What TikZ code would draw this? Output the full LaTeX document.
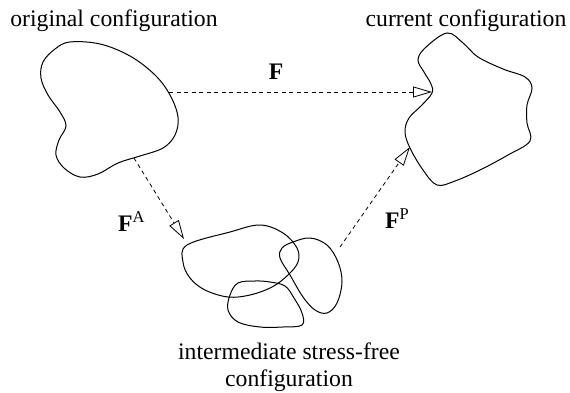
\documentclass[tikz,border=0pt]{standalone}
\usepackage{fontspec}
\setmainfont{Liberation Serif}
\usetikzlibrary{arrows.meta}
\newcommand{\supr}[1]{\raisebox{8.5pt}{\fontsize{16.5}{18}\selectfont #1}}
\begin{document}
\begin{tikzpicture}[x=1pt,y=-1pt,
  blob/.style={draw=black, line width=1pt, smooth cycle, tension=0.6},
  maparrow/.style={draw=black, line width=0.8pt, dash pattern=on 4pt off 3.5pt,
    -{Triangle[open, length=19pt, width=11pt, line width=0.8pt]}},
  lbl/.style={font=\fontsize{23.7}{27}\selectfont, inner sep=0pt, anchor=base},
  flbl/.style={font=\fontsize{23.7}{27}\selectfont, inner sep=0pt, anchor=base west}]
\useasboundingbox (0,0) rectangle (570,393);
% original configuration
\draw[blob] plot coordinates {(70,42) (100,44) (130,56) (155,75) (170,95) (178,117) (175,135) (163,148) (140,156) (118,163) (98,174) (80,177) (64,168) (56,155) (59,140) (66,126) (60,112) (48,95) (41,78) (43,62) (55,49)};
% current configuration
\draw[blob] plot coordinates {(447,33) (425,48) (418,60) (424,72) (431,84) (432,93) (422,105) (409,118) (405,132) (410,148) (423,170) (437,185) (455,181) (480,170) (508,155) (530,141) (527,123) (527,105) (532,88) (525,77) (503,69) (478,57) (463,43)};
% intermediate
\draw[blob] plot coordinates {(187,245) (230,232) (260,225) (283,233) (297,248) (298,262) (288,275) (272,287) (250,295) (228,297) (205,290) (190,278) (183,262)};
\draw[blob] plot coordinates {(282,248) (293,242) (310,238) (327,245) (338,262) (342,282) (337,303) (327,313) (315,310) (303,297) (290,275) (280,258)};
\draw[blob] plot coordinates {(238,283) (255,281) (270,282) (285,286) (294,298) (302,313) (302,325) (283,327) (260,327) (238,322) (228,310) (230,295)};
% anchor points
\coordinate (o1) at (169,92);
\coordinate (c1) at (432,92);
\coordinate (o2) at (134,158);
\coordinate (i1) at (184,239);
\coordinate (i2) at (340,247);
\coordinate (c2) at (410,147);
\draw[maparrow] (o1) -- (c1);
\draw[maparrow] (o2) -- (i1);
\draw[maparrow] (i2) -- (c2);
% labels
\node[lbl] (torig) at (114,27) {original configuration};
\node[lbl] (tcur) at (466,27) {current configuration};
\node[lbl] (tint) at (289,359) {intermediate stress-free};
\node[lbl] (tint2) at (289,386) {configuration};
\node[lbl] (lF) at (276,80) {\textbf{F}};
\node[flbl] (lFA) at (118,231) {\textbf{F}\supr{A}};
\node[flbl] (lFP) at (385,228) {\textbf{F}\supr{P}};
\end{tikzpicture}
\end{document}
